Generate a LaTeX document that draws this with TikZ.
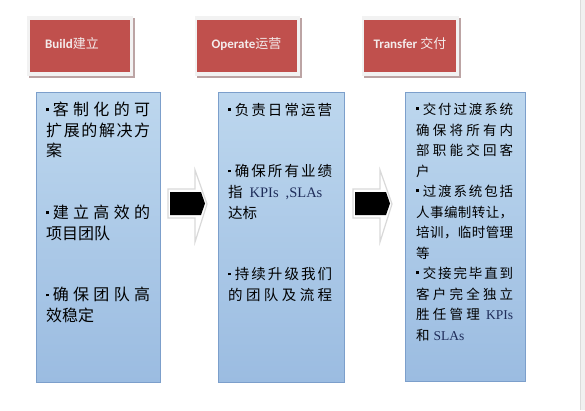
\documentclass[tikz,border=0pt]{standalone}
\usepackage{fontspec}
\setmainfont{Liberation Serif}
\newfontfamily\cjk{Noto Sans CJK SC}
\newfontfamily\hdrfont{Carlito}
\definecolor{redfill}{HTML}{C0504D}
\definecolor{framec}{HTML}{F2F2F2}
\definecolor{shadowc}{HTML}{BCA4A4}
\definecolor{bluetop}{HTML}{BDD7EE}
\definecolor{bluebot}{HTML}{9BBCE1}
\definecolor{blueedge}{HTML}{7C9FCB}
\definecolor{navy}{HTML}{1F2D5A}
\definecolor{hdrtxt}{HTML}{F4ECEC}
\def\JLb#1{\ifx\relax#1\else\hfil#1\expandafter\JLb\fi}
\def\JLa#1{#1\JLb}
\def\lw{104pt}
\newcommand\bul{\raisebox{4.5pt}{\rule{2.6pt}{2.6pt}}\hskip 4pt}
\newcommand\JL[1]{\hbox to \lw{\JLa#1\relax}}
\newcommand\BJL[1]{\hbox to \lw{\bul\JLa#1\relax}}
\newcommand\lat[1]{{\rmfamily\color{navy}#1}}
\tikzset{
  redbox/.style={fill=redfill, draw=none, minimum width=100pt, minimum height=52pt, inner sep=0},
  hdrtext/.style={text=hdrtxt, inner sep=0, font=\fontsize{13}{15}\selectfont},
  bluebox/.style={draw=blueedge, line width=1pt, top color=bluetop, bottom color=bluebot, inner sep=0},
  body/.style={anchor=base west, inner sep=0},
  arrowout/.style={fill=white, draw=black!15, line width=1.2pt, line join=miter},
  arrowin/.style={fill=black}
}
\begin{document}
\begin{tikzpicture}[x=1pt,y=-1pt]
\useasboundingbox (0,0) rectangle (585,410);
\fill[white] (0,0) rectangle (585,410);
% page edge
\fill[black!6] (580,0) rectangle (585,410);
\draw[black!14, line width=0.8pt] (580,0) -- (580,410);

% headers
\fill[shadowc] (29,18) rectangle (135,78);
\fill[framec] (27,16) rectangle (133,76);
\node[redbox] (h1) at (80,46) {};
\node[hdrtext] (l1) at (72,44) {\hdrfont\bfseries Build{\cjk\mdseries 建立}};

\fill[shadowc] (197,18) rectangle (302,78);
\fill[framec] (195,16) rectangle (300,76);
\node[redbox, minimum width=99.5pt] (h2) at (247,46) {};
\node[hdrtext] (l2) at (246.5,44) {\hdrfont\bfseries Operate{\cjk\mdseries 运营}};

\fill[shadowc] (364,18) rectangle (461,78);
\fill[framec] (362,16) rectangle (459,76);
\node[redbox, minimum width=91.5pt] (h3) at (410,46) {};
\node[hdrtext] (l3) at (410,44) {\hdrfont\bfseries Transfer {\cjk\mdseries 交付}};

% blue boxes
\node[bluebox, minimum width=124pt, minimum height=290pt] (b1) at (98,237) {};
\node[bluebox, minimum width=126pt, minimum height=290pt] (b2) at (281,237) {};
\node[bluebox, minimum width=120pt, minimum height=289pt] (b3) at (465,236.5) {};

% arrows
\path[arrowout] (168,189) -- (195,189) -- (195,170) -- (207,204) -- (195,242) -- (195,218) -- (168,218) -- cycle;
\path[arrowin] (170,192) -- (201,192) -- (205,203.5) -- (201,215) -- (170,215) -- cycle;
\path[arrowout] (353,189) -- (380,189) -- (380,170) -- (392,204) -- (380,242) -- (380,218) -- (353,218) -- cycle;
\path[arrowin] (355,192) -- (386,192) -- (390,203.5) -- (386,215) -- (355,215) -- cycle;

% texts
\node[body, font=\cjk\fontsize{16}{20.6}\selectfont] (t1) at (46,115.5) {\def\lw{104pt}\vtop{\baselineskip=20.6pt \lineskiplimit=-30pt
  \BJL{客制化的可}\JL{扩展的解决方}\hbox{案}\hbox{}\hbox{}%
  \BJL{建立高效的}\hbox{项目团队}\hbox{}\hbox{}%
  \BJL{确保团队高}\hbox{效稳定}}};

\node[body, font=\cjk\fontsize{14.5}{20.6}\selectfont] (t2) at (228,115) {\def\lw{104pt}\vtop{\baselineskip=20.6pt \lineskiplimit=-30pt
  \BJL{负责日常运营}\hbox{}\hbox{}%
  \BJL{确保所有业绩}\hbox to \lw{指\hskip 7pt\lat{KPIs}\hskip 7pt\lat{,SLAs}\hfil}\hbox{达标}\hbox{}\hbox{}%
  \BJL{持续升级我们}\JL{的团队及流程}}};

\node[body, font=\cjk\fontsize{13.5}{20.5}\selectfont] (t3) at (416,114.5) {\def\lw{97pt}\vtop{\baselineskip=20.5pt \lineskiplimit=-30pt
  \BJL{交付过渡系统}\JL{确保将所有内}\JL{部职能交回客}\hbox{户}%
  \BJL{过渡系统包括}\JL{人事编制转让，}\JL{培训，临时管理}\hbox{等}%
  \BJL{交接完毕直到}\JL{客户完全独立}\hbox to \lw{胜\hfil 任\hfil 管\hfil 理\hfil\hfil\lat{KPIs}}%
  \hbox{和\hskip 4pt\lat{SLAs}}}};
\end{tikzpicture}
\end{document}
